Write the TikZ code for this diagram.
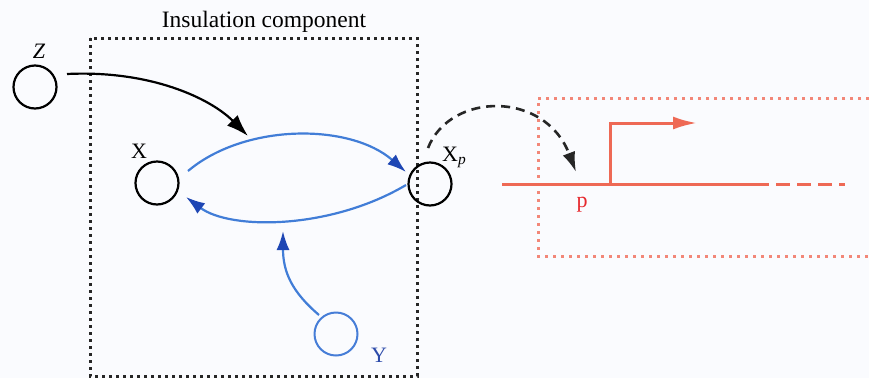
\documentclass[tikz,border=0pt]{standalone}
\usepackage{fontspec}
\setmainfont{Liberation Serif}
\usetikzlibrary{arrows.meta}
\definecolor{bg}{RGB}{250,251,254}
\definecolor{bline}{RGB}{65,125,215}
\definecolor{bhead}{RGB}{30,70,180}
\definecolor{ycirc}{RGB}{70,125,215}
\definecolor{ytext}{RGB}{45,75,170}
\definecolor{rline}{RGB}{238,105,85}
\definecolor{rbox}{RGB}{242,135,120}
\definecolor{rtext}{RGB}{230,40,45}
\begin{document}
\begin{tikzpicture}[x=1pt,y=-1pt,
  state/.style={circle,draw=black,line width=2.2pt,minimum size=43pt,inner sep=0pt},
  lbl/.style={inner sep=0pt,anchor=base,font=\fontsize{22}{26}\selectfont},
  blackbox/.style={draw=black!85,line width=3pt,dash pattern=on 3pt off 4pt},
  redbox/.style={draw=rbox,line width=3pt,dash pattern=on 3pt off 5pt},
  zarrow/.style={draw=black,line width=2.2pt,-{Latex[length=22pt,width=15pt]}},
  barrow/.style={draw=bline,line width=2.2pt,-{Latex[length=19pt,width=13pt,color=bhead]}},
  darrow/.style={draw=black!85,line width=2.6pt,dash pattern=on 9pt off 6pt,-{Latex[length=20pt,width=13pt]}},
  rl/.style={draw=rline,line width=3pt}
]
\fill[bg] (0,0) rectangle (869,378);
\useasboundingbox (0,0) rectangle (869,378);

% insulation box
\node[lbl,font=\fontsize{23.5}{28}\selectfont] (title) at (264,27) {Insulation component};
\draw[blackbox] (90,38) rectangle (417,376);

% red dotted box (open to the right)
\draw[redbox] (869,98) -- (538,98) -- (538,256) -- (869,256);

% nodes
\node[state] (Z) at (35,87) {};
\node[state] (X) at (157,183) {};
\node[state] (Xp) at (430,184) {};
\node[state,draw=ycirc,line width=2pt] (Y) at (336,334) {};

\node[lbl] (Zl) at (39,58) {\textit{Z}};
\node[lbl] (Xl) at (139,158) {X};
\node[lbl,anchor=base west] (Xpl) at (442,161) {X\textsubscript{\textit{p}}};
\node[lbl,text=ytext] (Yl) at (379,362) {Y};
\node[lbl,text=rtext] (pl) at (582,207) {p};

% connector ends
\coordinate (zs) at (67,74);
\coordinate (zt) at (248,136);
\coordinate (ts) at (188,171);
\coordinate (te) at (406,172);
\coordinate (bs) at (406,185);
\coordinate (be) at (186,197);
\coordinate (ys) at (319,315);
\coordinate (ye) at (283,231);
\coordinate (ds) at (428,148);
\coordinate (de) at (576,172);

\draw[zarrow] (zs) .. controls (150,70) and (210,98) .. (zt);
\draw[barrow] (ts) .. controls (245,123) and (350,123) .. (te);
\draw[barrow] (bs) .. controls (330,230) and (230,230) .. (be);
\draw[barrow] (ys) .. controls (292,292) and (283,272) .. (ye);
\draw[darrow] (ds) .. controls (450,92) and (545,90) .. (de);

% red signal line
\coordinate (r0) at (502,184);
\coordinate (r1) at (610,184);
\coordinate (r2) at (755,184);
\coordinate (r3) at (845,184);
\coordinate (ru) at (610,123);
\coordinate (rt) at (697,123);
\draw[rl] (r0) -- (r2);
\draw[rl,dash pattern=on 14pt off 7pt] (r2) -- (r3);
\draw[rl,-{Latex[length=24pt,width=13pt]}] (r1) -- (ru) -- (rt);
\end{tikzpicture}
\end{document}
